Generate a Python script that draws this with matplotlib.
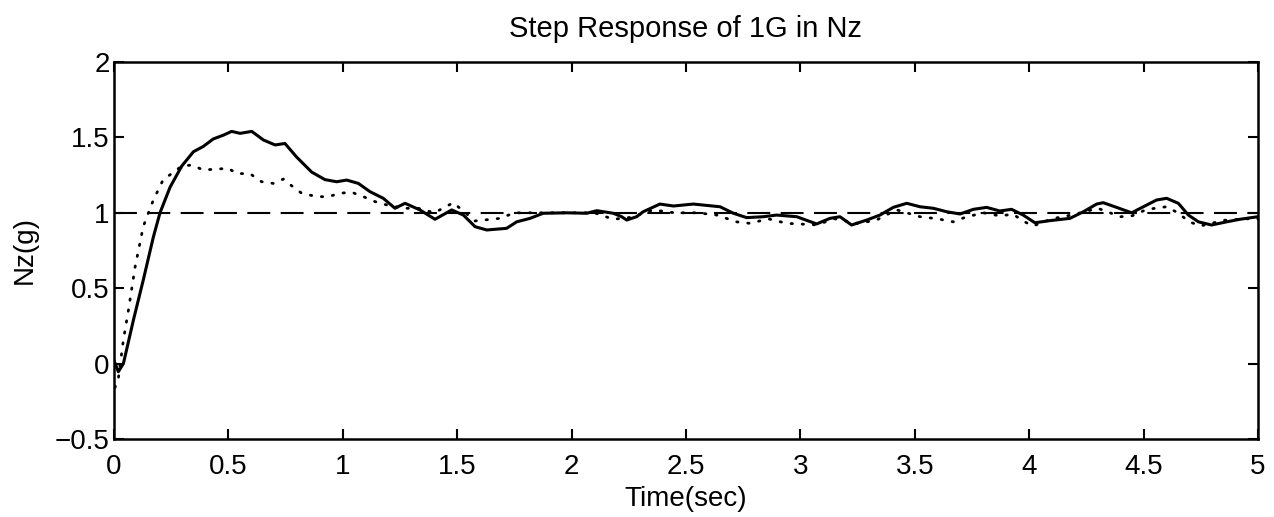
import matplotlib
matplotlib.use("Agg")
import matplotlib.pyplot as plt
import numpy as np

plt.rcParams['font.family'] = ['Liberation Sans', 'DejaVu Sans']

# Solid response
t_solid = [0.0, 0.019, 0.041, 0.085, 0.128, 0.172, 0.201, 0.245, 0.296, 0.347, 0.39,
           0.434, 0.478, 0.514, 0.551, 0.602, 0.653, 0.704, 0.747, 0.798, 0.864,
           0.922, 0.973, 1.017, 1.068, 1.119, 1.177, 1.228, 1.272, 1.337, 1.403,
           1.476, 1.527, 1.578, 1.629, 1.716, 1.76, 1.818, 1.876, 1.979, 2.066,
           2.11, 2.182, 2.219, 2.241, 2.284, 2.313, 2.386, 2.445, 2.532, 2.649,
           2.707, 2.765, 2.838, 2.896, 2.984, 3.071, 3.129, 3.173, 3.224, 3.29,
           3.348, 3.406, 3.465, 3.523, 3.581, 3.64, 3.698, 3.756, 3.814, 3.872,
           3.923, 3.974, 4.025, 4.091, 4.178, 4.237, 4.295, 4.324, 4.382, 4.448,
           4.499, 4.557, 4.601, 4.652, 4.696, 4.74, 4.797, 4.863, 4.921, 5.0]
nz_solid = [0.02, -0.054, 0.0, 0.29, 0.555, 0.84, 1.0, 1.17, 1.31, 1.405, 1.44,
            1.49, 1.515, 1.54, 1.527, 1.54, 1.483, 1.45, 1.46, 1.37, 1.27,
            1.22, 1.206, 1.217, 1.195, 1.14, 1.096, 1.03, 1.063, 1.019, 0.957,
            1.019, 0.985, 0.908, 0.886, 0.897, 0.94, 0.963, 0.997, 1.0, 0.997,
            1.014, 0.997, 0.974, 0.952, 0.974, 1.007, 1.058, 1.045, 1.058, 1.04,
            0.997, 0.968, 0.974, 0.985, 0.974, 0.926, 0.963, 0.974, 0.919, 0.952,
            0.985, 1.036, 1.063, 1.04, 1.03, 1.007, 0.992, 1.023, 1.036, 1.012,
            1.023, 0.985, 0.934, 0.948, 0.963, 1.007, 1.058, 1.067, 1.036, 1.0,
            1.04, 1.085, 1.096, 1.063, 0.985, 0.94, 0.919, 0.94, 0.957, 0.974]

# Dotted response
t_dot = [0.004, 0.019, 0.041, 0.063, 0.092, 0.128, 0.172, 0.215, 0.252, 0.296, 0.34,
         0.39, 0.449, 0.5, 0.536, 0.594, 0.645, 0.696, 0.74, 0.784, 0.82, 0.886,
         0.937, 0.988, 1.039, 1.09, 1.141, 1.192, 1.264, 1.33, 1.40, 1.483, 1.578,
         1.687, 1.75, 1.85, 2.0, 2.1, 2.182, 2.26, 2.357, 2.45, 2.55, 2.634, 2.721,
         2.78, 2.86, 2.94, 3.07, 3.15, 3.25, 3.33, 3.42, 3.523, 3.6, 3.668, 3.72,
         3.8, 3.87, 3.93, 3.98, 4.018, 4.1, 4.2, 4.3, 4.4, 4.45, 4.51, 4.55, 4.6,
         4.65, 4.7, 4.75, 4.85, 4.95, 5.0]
nz_dot = [-0.16, -0.098, 0.157, 0.355, 0.64, 0.91, 1.085, 1.22, 1.26, 1.31, 1.317,
          1.284, 1.29, 1.295, 1.26, 1.26, 1.206, 1.195, 1.224, 1.17, 1.13, 1.107,
          1.107, 1.13, 1.136, 1.107, 1.074, 1.052, 1.03, 1.03, 1.0, 1.067, 0.946,
          0.963, 1.0, 1.0, 1.0, 1.0, 0.957, 0.97, 1.019, 1.0, 1.0, 0.985, 0.94,
          0.93, 0.96, 0.93, 0.92, 0.96, 0.93, 0.95, 1.02, 0.974, 0.96, 0.94, 0.97,
          1.0, 0.98, 0.99, 0.94, 0.913, 0.96, 0.99, 1.03, 0.974, 0.98, 1.02, 1.03,
          1.04, 1.0, 0.94, 0.913, 0.95, 0.96, 0.96]

ref_level = 1.0
xticks = [0, 0.5, 1, 1.5, 2, 2.5, 3, 3.5, 4, 4.5, 5]
xticklabels = ['0', '0.5', '1', '1.5', '2', '2.5', '3', '3.5', '4', '4.5', '5']
yticks = [-0.5, 0, 0.5, 1, 1.5, 2]
yticklabels = ['\u22120.5', '0', '0.5', '1', '1.5', '2']

fig = plt.figure(figsize=(12.74, 5.17), dpi=100)
ax = fig.add_axes([0.0895, 0.151, 0.8979, 0.729])

ax.plot([0, 5], [ref_level, ref_level], color='black', lw=1.5, dashes=(11, 5))
ax.plot(t_dot, nz_dot, color='black', lw=2.0, linestyle=(0, (0.5, 3.5)),
        dash_capstyle='round')
ax.plot(t_solid, nz_solid, color='black', lw=2.2)

ax.set_xlim(0, 5)
ax.set_ylim(-0.5, 2)
ax.set_xticks(xticks)
ax.set_xticklabels(xticklabels)
ax.set_yticks(yticks)
ax.set_yticklabels(yticklabels)
ax.tick_params(direction='in', length=7.5, width=1.5, top=True, right=True,
               labelsize=20)
ax.tick_params(axis='x', pad=11)
ax.tick_params(axis='y', pad=3)
for s in ax.spines.values():
    s.set_linewidth(1.8)

ax.set_title('Step Response of 1G in Nz', fontsize=21, pad=18)
ax.set_xlabel('Time(sec)', fontsize=20, labelpad=4)
ax.set_ylabel('Nz(g)', fontsize=20)
ax.yaxis.set_label_coords(-0.067, 0.5)

fig.savefig('out.png', dpi=100)
